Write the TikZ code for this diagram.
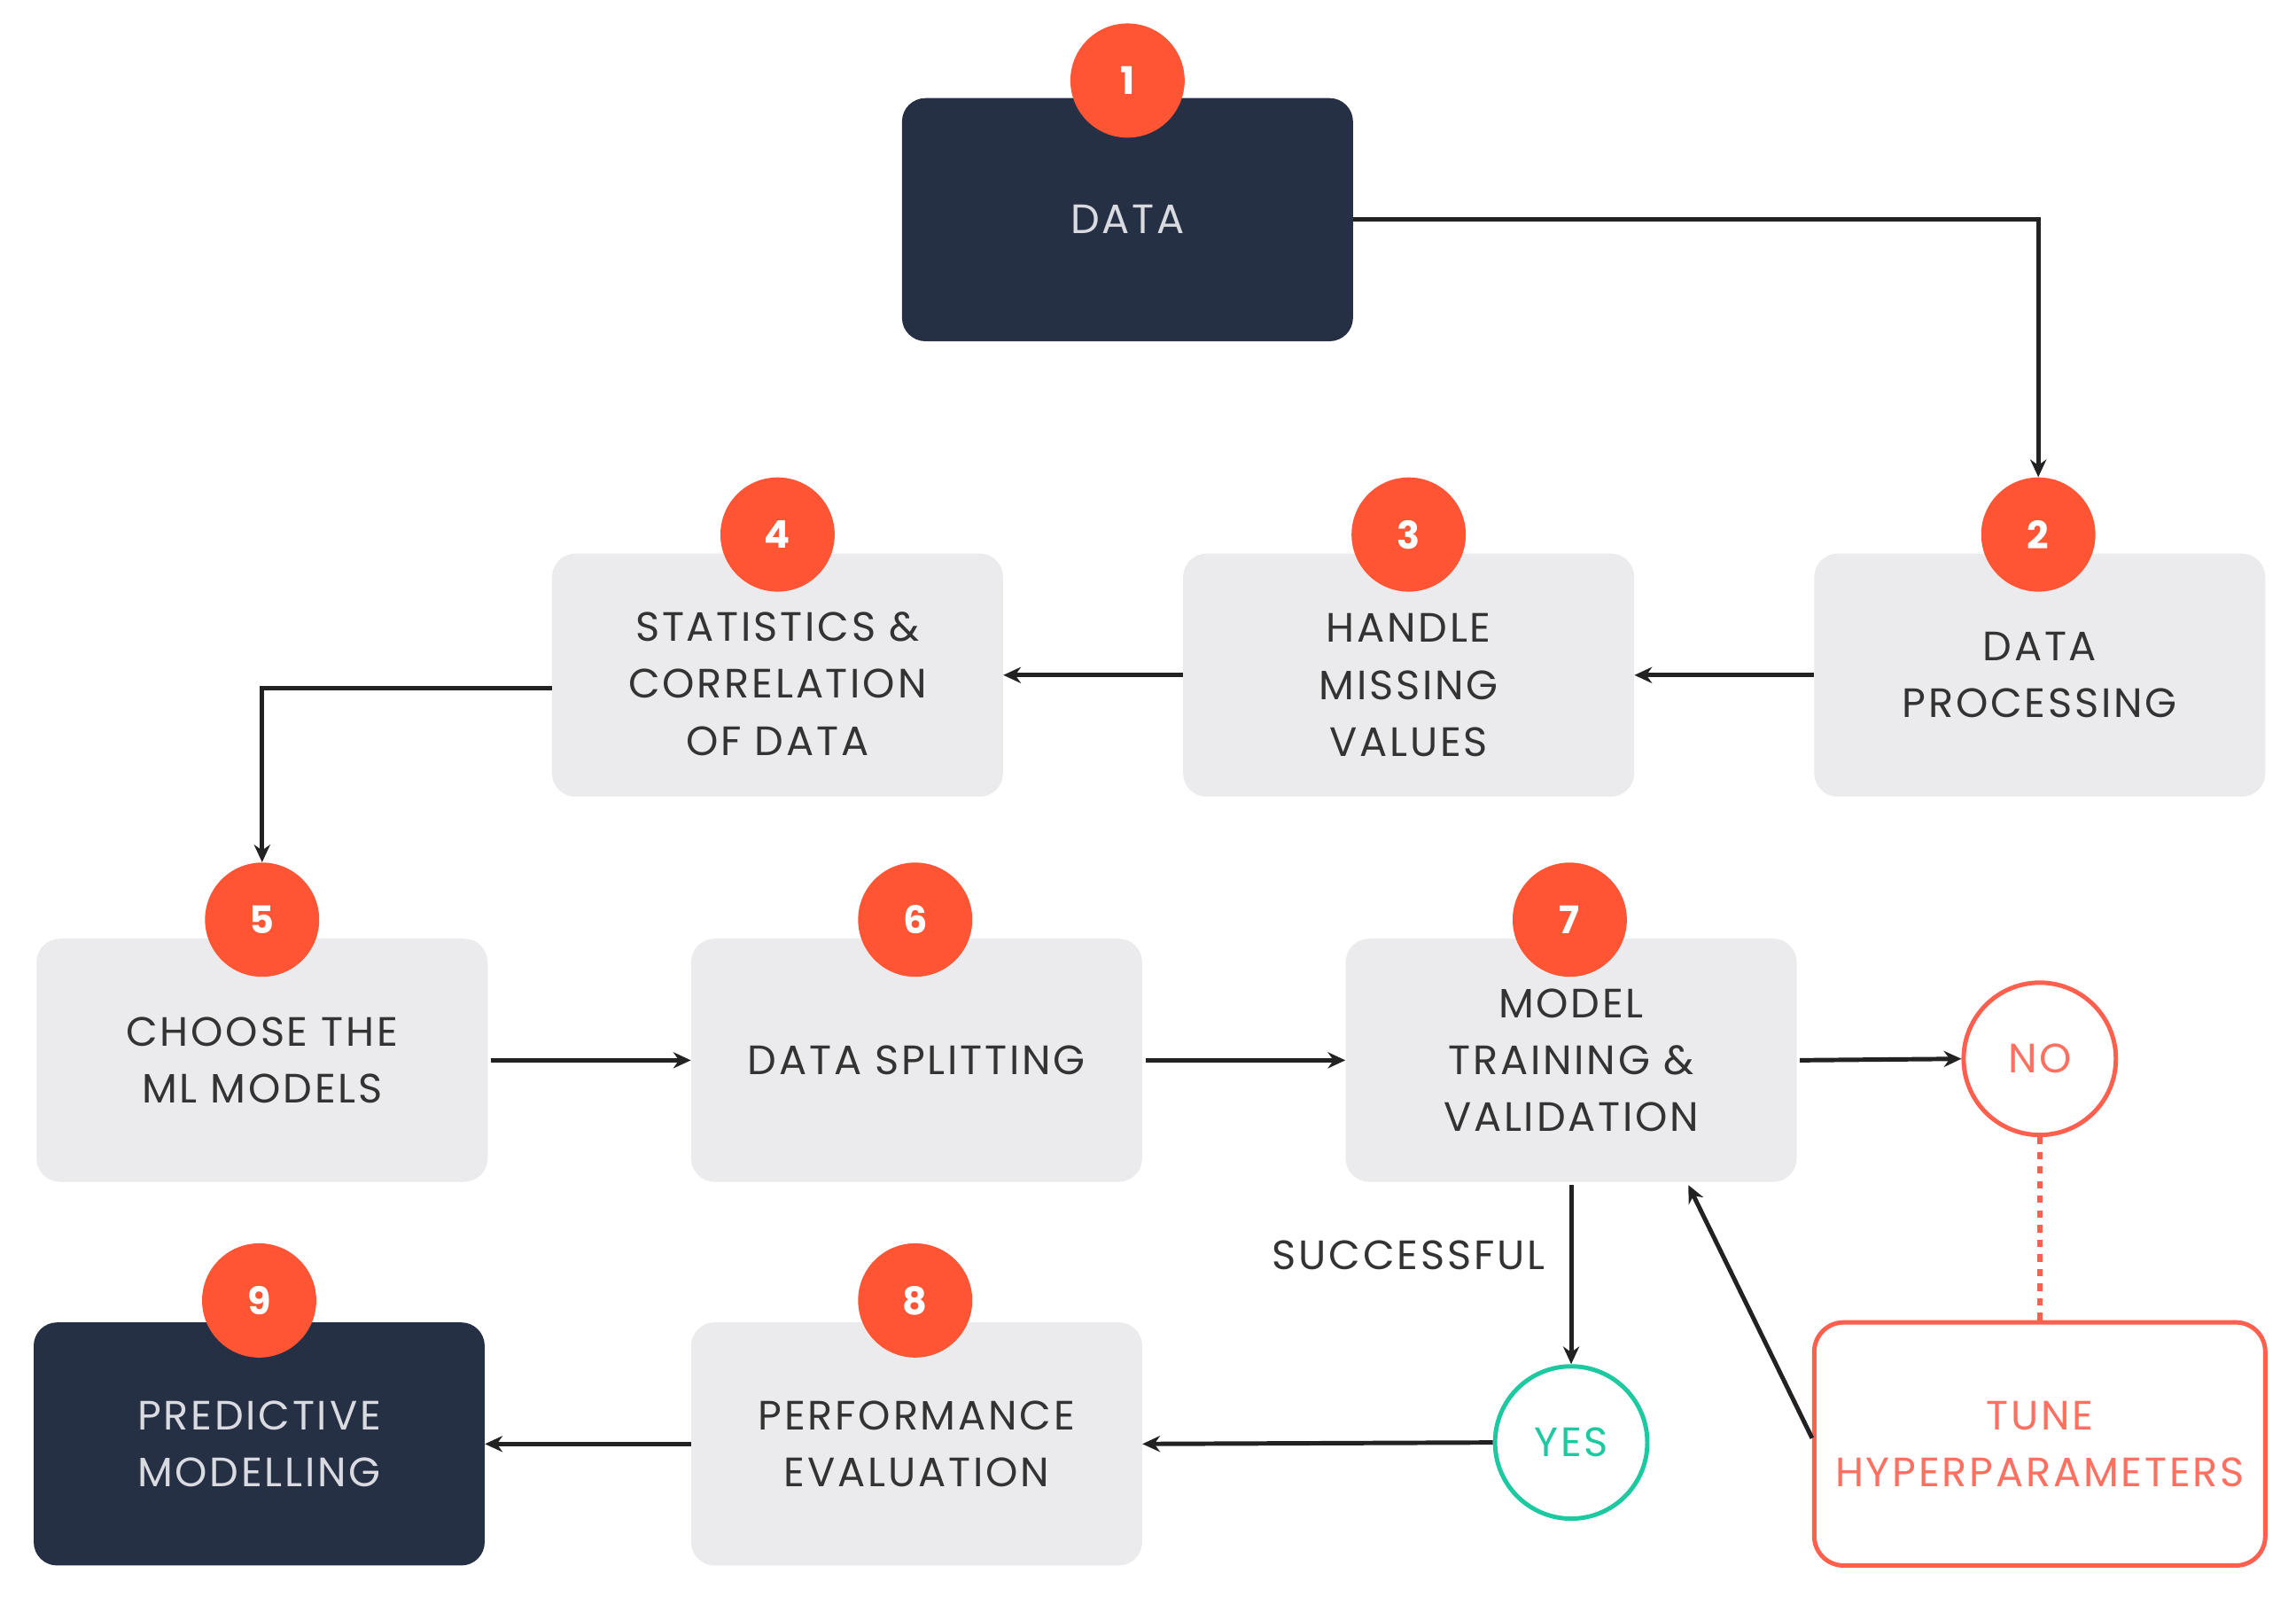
\documentclass[tikz,border=0pt]{standalone}
\usepackage{fontspec}
\setmainfont{Poppins}[LetterSpace=6]
\usetikzlibrary{arrows.meta,calc}
\definecolor{navy}{HTML}{263045}
\definecolor{boxgray}{HTML}{EBEBED}
\definecolor{textdark}{HTML}{333333}
\definecolor{textlight}{HTML}{D9DBE1}
\definecolor{badgec}{HTML}{FF5534}
\definecolor{tunec}{HTML}{FF5F4C}
\definecolor{tunetext}{HTML}{FF7060}
\definecolor{tealc}{HTML}{1DC9A0}
\definecolor{arrowc}{HTML}{222222}
\begin{document}
\begin{tikzpicture}[x=1pt,y=-1pt,
  boxtext/.style={align=center, inner sep=0pt, text=textdark,
    font=\fontsize{28}{39}\selectfont},
  box/.style={boxtext, rectangle, rounded corners=16pt, minimum width=308pt, minimum height=166pt,
    fill=boxgray},
  darkbox/.style={box, fill=navy, text=textlight},
  badge/.style={circle, fill=badgec, minimum size=78pt, inner sep=0pt, text=white,
    font=\fontsize{26}{30}\selectfont\bfseries},
  arr/.style={draw=arrowc, line width=3pt, -{Stealth[length=12pt,width=11pt]}},
  ring/.style={circle, minimum size=104pt, inner sep=0pt, line width=3pt, fill=white,
    font=\fontsize{28}{30}\selectfont}
]
\useasboundingbox (0,0) rectangle (1568,1090);
\fill[white] (0,0) rectangle (1568,1090);

% boxes
\node[darkbox] (b1) at (770,150) {DATA};
\node[box] (b2) at (1393,461) {DATA\\PROCESSING};
\node[box] (b3) at (962,461) {};
\node[boxtext] (b3t) at ($(b3)+(0,7)$) {HANDLE\\MISSING\\VALUES};
\node[box] (b4) at (531,461) {};
\node[boxtext] (b4t) at ($(b4)+(0,6)$) {STATISTICS \&\\CORRELATION\\OF DATA};
\node[box] (b5) at (179,724) {CHOOSE THE\\ML MODELS};
\node[box] (b6) at (626,724) {DATA SPLITTING};
\node[box] (b7) at (1073,724) {MODEL\\TRAINING \&\\VALIDATION};
\node[box] (b8) at (626,986) {PERFORMANCE\\EVALUATION};
\node[darkbox] (b9) at (177,986) {PREDICTIVE\\MODELLING};
\node[box, fill=white, draw=tunec, line width=3pt, rounded corners=20pt, text=tunetext] (tune) at (1393,986) {TUNE\\HYPERPARAMETERS};

\node[ring, draw=tunec, text=tunetext] (no) at (1393,723) {NO};
\node[ring, draw=tealc, text=tealc] (yes) at (1073,985) {YES};

% badges
\node[badge] (n1) at (770,55) {1};
\node[badge] (n2) at (1392,365) {2};
\node[badge] (n3) at (962,365) {3};
\node[badge] (n4) at (531,365) {4};
\node[badge] (n5) at (179,628) {5};
\node[badge] (n6) at (625,628) {6};
\node[badge] (n7) at (1072,628) {7};
\node[badge] (n8) at (625,888) {8};
\node[badge] (n9) at (177,888) {9};

% connectors
\draw[arr] (b1.east) -| (n2.north);
\draw[arr] (b2.west) -- (b3.east);
\draw[arr] (b3.west) -- (b4.east);
\draw[arr] ([yshift=-9pt]b4.west) -| (n5.north);
\draw[arr] ([xshift=2pt]b5.east) -- (b6.west);
\draw[arr] ([xshift=2pt]b6.east) -- (b7.west);
\draw[arr] ([xshift=2pt]b7.east) -- (no.west);
\draw[tunec, line width=4pt, dash pattern=on 5pt off 5pt] (no.south) -- (tune.north);
\coordinate (t7) at ($(b7.south)+(80,2)$);
\draw[arr] ([yshift=4pt]tune.west) -- (t7);
\draw[arr] ([yshift=-2pt]b7.south) -- (yes.north);
\node[font=\fontsize{28}{30}\selectfont, text=textdark] (succ) at (962,857) {SUCCESSFUL};
\draw[arr] (yes.west) -- (b8.east);
\draw[arr] (b8.west) -- (b9.east);
\end{tikzpicture}
\end{document}
